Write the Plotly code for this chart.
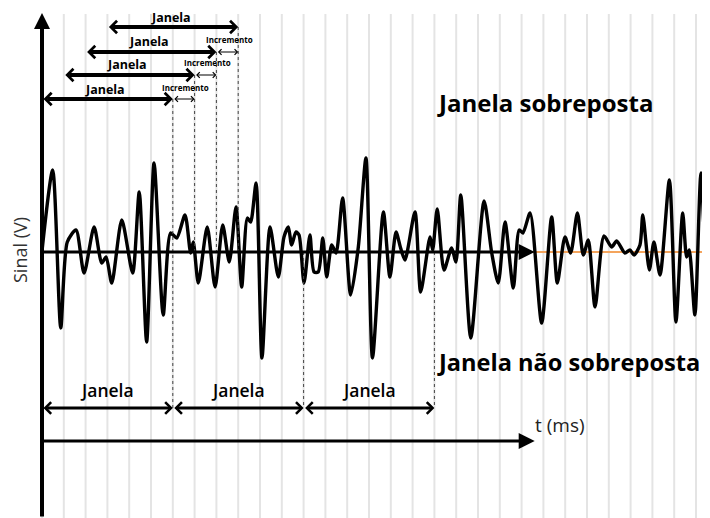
import plotly.graph_objects as go

# ---------------- data ----------------
# signal (t in ms, amplitude in V)
t_ms = [0, 4.9, 8.6, 11.6, 15.6, 19.3, 23.9, 27.4, 29.4, 32.0, 36.6, 41.6, 44.6, 48.0,
        51.4, 55.6, 59.0, 61.8, 65.6, 68.2, 69.4, 71.7, 75.8, 79.4, 82.9, 85.9, 89.0,
        91.6, 94.2, 95.7, 98.2, 100.9, 104.6, 108.4, 111.0, 113.0, 114.5, 116.5, 117.9,
        120.2, 122.9, 124.8, 126.7, 128.8, 130.6, 132.9, 134.9, 137.9, 141.6, 145.1,
        148.6, 151.6, 156.6, 159.6, 162.4, 164.5, 166.5, 171.1, 173.7, 178.0, 179.2,
        181.3, 184.4, 187.9, 189.9, 192.1, 196.7, 202.8, 206.3, 209.3, 212.4, 216.2,
        218.9, 220.6, 223.9, 229.2, 233.8, 236.4, 239.9, 242.5, 245.6, 248.3, 250.6,
        253.7, 257.8, 261.3, 263.6, 267.4, 269.7, 271.6, 274.3, 275.6, 278.6, 280.7,
        283.5, 287.8, 290.8, 293.9, 295.7, 296.9, 299.5, 302.3, 305.2, 306.4]
sinal_v = [0.05, 4.1, -3.8, 0.5, 1.1, -1.05, 1.25, -0.55, -0.25, -1.55, 1.6, -1.05, 3.0, -4.5,
           4.45, -3.15, 0.95, 0.7, 1.85, -0.05, 0.5, -1.55, 1.25, -1.75, 1.35, -0.5, 2.25,
           -1.75, 1.7, 1.5, 3.45, -5.3, 1.25, -1.25, 0.75, 1.25, 0.35, 1.0, 0.85,
           -1.55, 0.85, -1.0, -1.0, 0.7, -1.25, 0.35, -0.05, 2.7, -2.15, 0.25,
           4.7, -5.3, 2.0, -1.25, 1.0, 0.2, -0.4, 2.0, -2.0, 0.75, 0.1,
           2.15, -0.9, 0.2, -0.5, 2.85, -4.3, 2.55, -0.05, -1.55, 1.5, -1.8,
           1.1, 0.95, 1.95, -3.55, 1.75, -1.55, 0.75, -0.05, 1.95, -0.15, 0.6,
           -2.75, 0.8, 0.25, 0.55, -0.05, 0.1, -0.15, 0.35, 1.85, -0.9, 0.5,
           -1.15, 3.6, -3.5, 1.95, -0.25, 0.1, -3.15, 3.95, -0.75, -0.8]

grid_t = list(range(0, 310, 10))          # vertical grid every 10 ms
janela_ms = 60                            # window length
incremento_ms = 10                        # window step
inicio_sobrepostas = [30, 20, 10, 0]      # overlapped windows (top to bottom)
inicio_nao_sobrepostas = [0, 60, 120]     # non-overlapped windows
fim_eixo_t = 226                          # end of time-axis arrows
rotulo_janela = "Janela"
rotulo_incremento = "Incremento"

# ---------------- layout helpers ----------------
# the page body has an 8px margin, so the figure is drawn 8px in from the corner
OFF = 8
W, H = 710 - OFF, 518 - OFF
X0_PX, PX_PER_MS = 42 - OFF, 2.18          # screen x of t = 0
Y0_PX, PX_PER_V = 252 - OFF, 20.0          # screen y of v = 0
x_range = [-X0_PX / PX_PER_MS, (W - X0_PX) / PX_PER_MS]
y_range = [-(H - Y0_PX) / PX_PER_V, Y0_PX / PX_PER_V]


def vy(ypx):
    """screen-pixel y -> data value"""
    return (Y0_PX - (ypx - OFF)) / PX_PER_V


def tx(xpx):
    """screen-pixel x -> data value"""
    return ((xpx - OFF) - X0_PX) / PX_PER_MS


FONT = "Open Sans"
fig = go.Figure()

shapes = []
# grid
for g in grid_t:
    shapes.append(dict(type="line", xref="x", yref="y", x0=g, x1=g, y0=y_range[0], y1=vy(14),
                       line=dict(color="#e4e4e4", width=2), layer="below"))

# orange baseline continuation
fig.add_trace(go.Scatter(x=[fim_eixo_t - 2, x_range[1]], y=[0, 0], mode="lines",
                         line=dict(color="#F4A45C", width=2), hoverinfo="skip"))
# signal
fig.add_trace(go.Scatter(x=t_ms, y=sinal_v, mode="lines",
                         line=dict(color="black", width=3.4, shape="spline", smoothing=0.7),
                         hoverinfo="skip"))

annotations = []


def arrow(x0, x1, y, width, size, head=4, double=True):
    annotations.append(dict(x=x1, y=y, ax=x0, ay=y, xref="x", yref="y", axref="x", ayref="y",
                            text="", showarrow=True, arrowhead=head, startarrowhead=head,
                            arrowside="end+start" if double else "end",
                            arrowwidth=width, arrowsize=size, startarrowsize=size,
                            standoff=0, startstandoff=0, arrowcolor="black"))


def label(x, y, text, size, weight="bold", anchor="center", color="black", angle=0):
    annotations.append(dict(x=x, y=y, xref="x", yref="y", text=text, showarrow=False,
                            xanchor=anchor, yanchor="middle", textangle=angle,
                            font=dict(family=FONT, size=size, color=color, weight=weight)))


# overlapped windows
arrow_px = [27, 52, 75, 99]
label_px = [17, 41, 64, 89]
for i, s in enumerate(inicio_sobrepostas):
    e = s + janela_ms
    arrow(s, e, vy(arrow_px[i]), 4, 0.6)
    label((s + e) / 2 - 1, vy(label_px[i]), rotulo_janela, 12.5)
    if i > 0:
        arrow(e, e + incremento_ms, vy(arrow_px[i]), 1.2, 0.9)
        label(e + incremento_ms / 2 + 1, vy(label_px[i] - 2), rotulo_incremento, 8)
        y_bot = vy(408) if s == 0 else 0
        shapes.append(dict(type="line", xref="x", yref="y", x0=e, x1=e, y0=vy(arrow_px[i]),
                           y1=y_bot, line=dict(color="#444", width=1, dash="dot")))
e_top = inicio_sobrepostas[0] + janela_ms
shapes.append(dict(type="line", xref="x", yref="y", x0=e_top, x1=e_top, y0=vy(arrow_px[0]),
                   y1=0, line=dict(color="#444", width=1, dash="dot")))

# non-overlapped windows
for s in inicio_nao_sobrepostas:
    e = s + janela_ms
    arrow(s, e, vy(408), 3, 0.75)
    label((s + e) / 2, vy(390), rotulo_janela, 17.5, weight=600)
    if e != janela_ms:
        shapes.append(dict(type="line", xref="x", yref="y", x0=e, x1=e, y0=0, y1=vy(408),
                           line=dict(color="#444", width=1, dash="dot")))

# axes
arrow(0, fim_eixo_t, 0, 3.2, 1.0, head=2, double=False)
arrow(0, fim_eixo_t, vy(441), 3.2, 1.0, head=2, double=False)
annotations.append(dict(x=0, y=vy(13), ax=0, ay=y_range[0], xref="x", yref="y", axref="x",
                        ayref="y", text="", showarrow=True, arrowhead=2, arrowwidth=4,
                        arrowsize=0.8, standoff=0, arrowcolor="black"))

# texts
label(tx(533), vy(425), "t (ms)", 19, weight="normal", anchor="left", color="#222")
label(tx(20), vy(250), "Sinal (V)", 18, weight="normal", color="#333", angle=-90)
label(tx(435), vy(102), "Janela sobreposta", 24, anchor="left")
label(tx(435), vy(362), "Janela não sobreposta", 23.6, anchor="left")

fig.update_layout(
    width=W, height=H, margin=dict(l=0, r=0, t=0, b=0),
    paper_bgcolor="white", plot_bgcolor="white", showlegend=False,
    xaxis=dict(range=x_range, visible=False, fixedrange=True),
    yaxis=dict(range=y_range, visible=False, fixedrange=True),
    shapes=shapes, annotations=annotations,
)
fig.write_html("out.html")
